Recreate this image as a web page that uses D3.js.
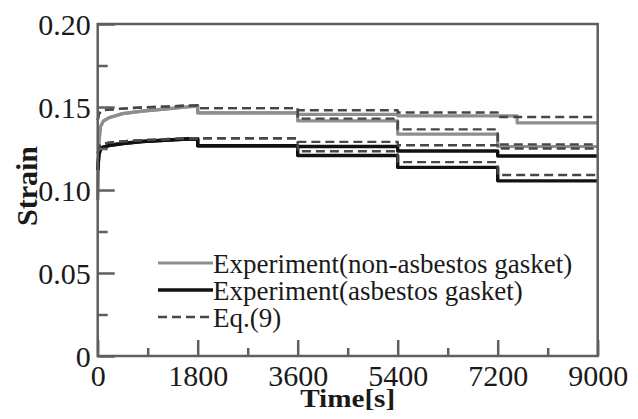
<!DOCTYPE html>
<html>
<head>
<meta charset="utf-8">
<script src="https://cdn.jsdelivr.net/npm/d3@7"></script>
<style>
  body { margin: 0; background: #fff; }
  text { font-family: "Liberation Serif", "Tinos", "Times New Roman", "DejaVu Serif", serif; }
</style>
</head>
<body>
<svg id="chart" width="638" height="419"></svg>
<script>
// Axis ticks
const xTicks = [0, 1800, 3600, 5400, 7200, 9000];
const xTickLabels = ["0", "1800", "3600", "5400", "7200", "9000"];
const xMinorTicks = [900, 2700, 4500, 6300, 8100];
const yTicks = [0, 0.05, 0.10, 0.15, 0.20];
const yTickLabels = ["0", "0.05", "0.10", "0.15", "0.20"];
const yMinorTicks = [0.025, 0.075, 0.125, 0.175];

// Creep during the first hold period (0–1800 s)
const creepTime     = [0, 20, 50, 100, 200, 450, 800, 1200, 1600, 1800];
const greyExpCreep  = [0.094, 0.128, 0.138, 0.1415, 0.1435, 0.146, 0.1475, 0.1487, 0.1500, 0.1505];
const blackExpCreep = [0.112, 0.121, 0.1245, 0.1258, 0.1268, 0.1280, 0.1292, 0.1300, 0.1307, 0.1309];
const greyEqCreep   = [0.142, 0.1455, 0.1472, 0.1480, 0.1485, 0.1490, 0.1497, 0.1502, 0.1508, 0.1510];
const blackEqCreep  = [0.122, 0.1255, 0.1270, 0.1278, 0.1285, 0.1293, 0.1300, 0.1306, 0.1310, 0.1312];

// Stepwise levels after each load change
const stepTime          = [1800, 3600, 5400, 7200];
const greyExpUpperTime  = [1800, 3600, 5400, 7550];
const greyExpUpper      = [0.1465, 0.1455, 0.1447, 0.1404];
const greyExpLower      = [0.1465, 0.1416, 0.1336, 0.1262];
const greyEqUpper       = [0.1493, 0.1480, 0.1467, 0.1440];
const greyEqLower       = [0.1493, 0.1430, 0.1365, 0.1275];
const blackExpUpper     = [0.1267, 0.1262, 0.1235, 0.1205];
const blackExpLower     = [0.1267, 0.1208, 0.1136, 0.1055];
const blackEqUpper      = [0.1312, 0.1290, 0.1270, 0.1250];
const blackEqLower      = [0.1312, 0.1233, 0.1168, 0.1090];
const endTime = 9000;

const legendLabels = ["Experiment(non-asbestos gasket)", "Experiment(asbestos gasket)", "Eq.(9)"];

const svg = d3.select("#chart");
const x = d3.scaleLinear().domain([0, 9000]).range([97.7, 597.7]);
const y = d3.scaleLinear().domain([0, 0.2]).range([356, 24]);

const frameColor = "#5f5f5f";
const textColor = "#1a1a1a";
const serif = "Liberation Serif, Tinos, Times New Roman, DejaVu Serif, serif";

function series(creepV, times, levels) {
  const pts = creepTime.map((t, i) => [t, creepV[i]]);
  let prev = creepV[creepV.length - 1];
  times.forEach((t, i) => {
    pts.push([t, prev]);
    pts.push([t, levels[i]]);
    prev = levels[i];
  });
  pts.push([endTime, prev]);
  return pts;
}

const line = d3.line().x(d => x(d[0])).y(d => y(d[1]));

const styles = {
  grey:   { stroke: "#8e8e8e", width: 3.2, dash: null },
  black:  { stroke: "#111",    width: 3.4, dash: null },
  dashed: { stroke: "#474747", width: 2.4, dash: "9,5" }
};

const seriesList = [
  { pts: series(greyExpCreep, greyExpUpperTime, greyExpUpper), s: styles.grey },
  { pts: series(greyExpCreep, stepTime, greyExpLower), s: styles.grey },
  { pts: series(blackExpCreep, stepTime, blackExpUpper), s: styles.black },
  { pts: series(blackExpCreep, stepTime, blackExpLower), s: styles.black },
  { pts: series(greyEqCreep, stepTime, greyEqUpper), s: styles.dashed },
  { pts: series(greyEqCreep, stepTime, greyEqLower), s: styles.dashed },
  { pts: series(blackEqCreep, stepTime, blackEqUpper), s: styles.dashed },
  { pts: series(blackEqCreep, stepTime, blackEqLower), s: styles.dashed }
];

svg.append("g").selectAll("path")
  .data(seriesList)
  .join("path")
  .attr("d", d => line(d.pts))
  .attr("fill", "none")
  .attr("stroke", d => d.s.stroke)
  .attr("stroke-width", d => d.s.width)
  .attr("stroke-dasharray", d => d.s.dash)
  .attr("stroke-linejoin", "round");

// Frame
svg.append("rect")
  .attr("x", x(0)).attr("y", y(0.2))
  .attr("width", x(9000) - x(0)).attr("height", y(0) - y(0.2))
  .attr("fill", "none").attr("stroke", frameColor).attr("stroke-width", 2.5);

function styleAxis(g) {
  g.select(".domain").remove();
  g.selectAll(".tick line").attr("stroke", frameColor).attr("stroke-width", 2.5);
  g.selectAll("text")
    .attr("font-family", serif)
    .attr("font-size", 30).attr("fill", textColor);
}

// X axis
svg.append("g").attr("transform", `translate(0,${y(0)})`)
  .call(d3.axisBottom(x).tickValues(xMinorTicks).tickSize(-8).tickFormat(""))
  .call(styleAxis);
const gx = svg.append("g").attr("transform", `translate(0,${y(0)})`)
  .call(d3.axisBottom(x).tickValues(xTicks).tickSize(-16).tickFormat((d, i) => xTickLabels[i]))
  .call(styleAxis);
gx.selectAll("text").attr("y", 30).attr("dy", null);

// Y axis
svg.append("g").attr("transform", `translate(${x(0)},0)`)
  .call(d3.axisLeft(y).tickValues(yMinorTicks).tickSize(-10).tickFormat(""))
  .call(styleAxis);
const gy = svg.append("g").attr("transform", `translate(${x(0)},0)`)
  .call(d3.axisLeft(y).tickValues(yTicks).tickSize(-17).tickFormat((d, i) => yTickLabels[i]))
  .call(styleAxis);
gy.selectAll("text").attr("x", -7).attr("dy", null).attr("y", 10);

// Axis titles
svg.append("text")
  .attr("x", (x(0) + x(9000)) / 2).attr("y", 407)
  .attr("text-anchor", "middle")
  .attr("font-size", 25).attr("font-weight", "bold").attr("fill", textColor)
  .attr("textLength", 95).attr("lengthAdjust", "spacingAndGlyphs")
  .text("Time[s]");
svg.append("text")
  .attr("transform", `translate(37,186) rotate(-90)`)
  .attr("text-anchor", "middle")
  .attr("font-size", 29).attr("font-weight", "bold").attr("fill", textColor)
  .attr("textLength", 80).attr("lengthAdjust", "spacingAndGlyphs")
  .text("Strain");

// Legend
const legendStyles = [styles.grey, styles.black, styles.dashed];
const legend = svg.append("g");
const rows = legend.selectAll("g").data(legendLabels).join("g")
  .attr("transform", (d, i) => `translate(158,${263 + i * 27})`);
rows.append("line")
  .attr("x1", 0).attr("x2", 55).attr("y1", 0).attr("y2", 0)
  .attr("stroke", (d, i) => legendStyles[i].stroke)
  .attr("stroke-width", (d, i) => legendStyles[i].width)
  .attr("stroke-dasharray", (d, i) => legendStyles[i].dash);
rows.append("text")
  .attr("x", 55).attr("y", 10)
  .attr("font-size", 27).attr("fill", textColor)
  .text(d => d);
</script>
</body>
</html>
